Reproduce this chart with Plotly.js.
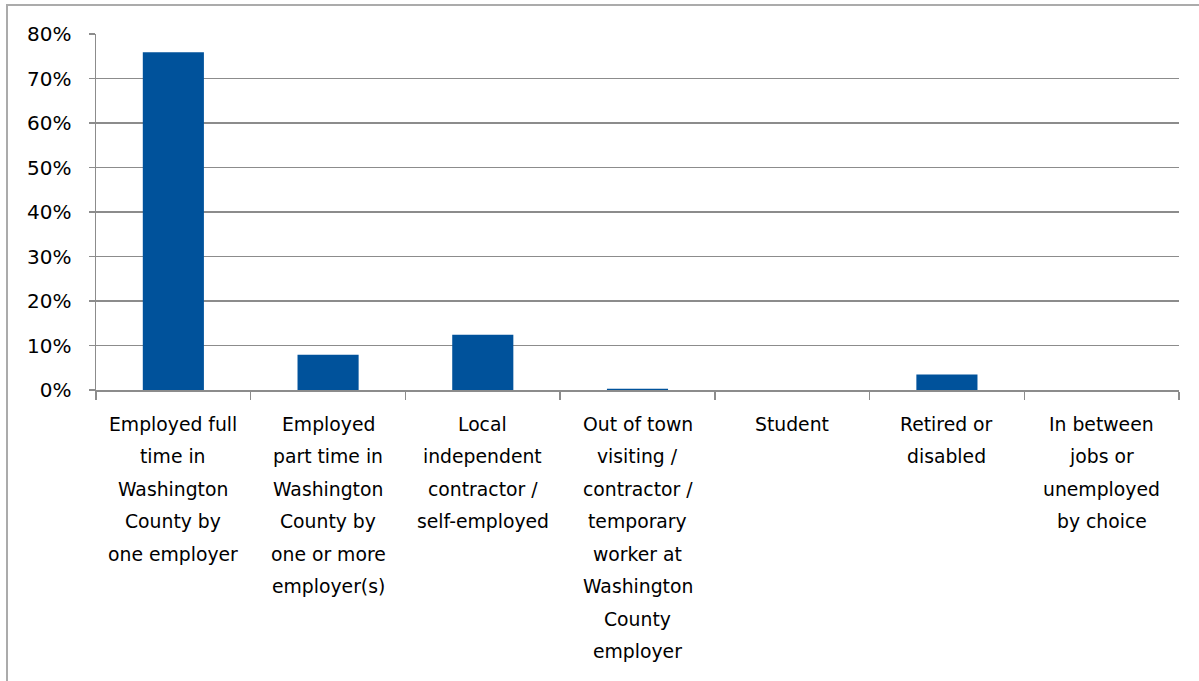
<!DOCTYPE html>
<html>
<head>
<meta charset="utf-8">
<script src="https://cdn.plot.ly/plotly-3.0.1.min.js"></script>
<style>
  html, body { margin: 0; padding: 0; background: #fff; overflow: hidden; width: 1199px; height: 681px; }
  #frame { position: absolute; left: 6px; top: 4px; width: 1200px; height: 700px; border: 2px solid #ababab; box-sizing: border-box; }
  #chart { position: absolute; left: 0; top: 0; }
</style>
</head>
<body>
<div id="frame"><div id="chart"></div></div>
<script>
const categories = [
  "Employed full time in Washington County by one employer",
  "Employed part time in Washington County by one or more employer(s)",
  "Local independent contractor / self-employed",
  "Out of town visiting / contractor / temporary worker at Washington County employer",
  "Student",
  "Retired or disabled",
  "In between jobs or unemployed by choice"
];
const labelLines = [
  ["Employed full", "time in", "Washington", "County by", "one employer"],
  ["Employed", "part time in", "Washington", "County by", "one or more", "employer(s)"],
  ["Local", "independent", "contractor /", "self-employed"],
  ["Out of town", "visiting /", "contractor /", "temporary", "worker at", "Washington", "County", "employer"],
  ["Student"],
  ["Retired or", "disabled"],
  ["In between", "jobs or", "unemployed", "by choice"]
];
const values = [0.759, 0.079, 0.124, 0.003, 0, 0.035, 0];
const yTicks = [0, 0.1, 0.2, 0.3, 0.4, 0.5, 0.6, 0.7, 0.8];

const FONT = "DejaVu Sans, sans-serif";
const annotations = [];
labelLines.forEach((lines, i) => {
  lines.forEach((ln, j) => {
    annotations.push({
      x: categories[i], y: 0, xref: "x", yref: "y",
      text: ln, showarrow: false,
      xanchor: "center", yanchor: "middle",
      yshift: -34 - j * 32.5,
      font: {family: FONT, size: 18.8, color: "#000"}
    });
  });
});

const data = [{
  type: "bar",
  x: categories,
  y: values,
  marker: {color: "#00529b", line: {width: 0}},
  hoverinfo: "x+y"
}];

const layout = {
  width: 1191, height: 675,
  margin: {l: 88, r: 20, t: 28, b: 291},
  paper_bgcolor: "rgba(0,0,0,0)",
  plot_bgcolor: "#fff",
  bargap: 0.605,
  showlegend: false,
  font: {family: FONT, size: 18.8, color: "#000"},
  xaxis: {
    type: "category",
    showticklabels: false,
    ticks: "outside",
    tickson: "boundaries",
    ticklen: 8,
    tickcolor: "#8c8c8c",
    tickwidth: 1.5,
    showline: true,
    linecolor: "#8c8c8c",
    linewidth: 1.5,
    showgrid: false,
    zeroline: false
  },
  yaxis: {
    range: [0, 0.8],
    tickvals: yTicks,
    tickformat: ".0%",
    ticks: "outside",
    ticklen: 6,
    tickcolor: "#8c8c8c",
    tickwidth: 1.5,
    ticklabelstandoff: 13,
    showline: true,
    linecolor: "#8c8c8c",
    linewidth: 1.5,
    showgrid: true,
    gridcolor: "#8c8c8c",
    gridwidth: 1.3,
    zeroline: false,
    tickfont: {family: FONT, size: 20, color: "#000"}
  },
  annotations: annotations
};

Plotly.newPlot("chart", data, layout, {displayModeBar: false, staticPlot: true});
</script>
</body>
</html>
